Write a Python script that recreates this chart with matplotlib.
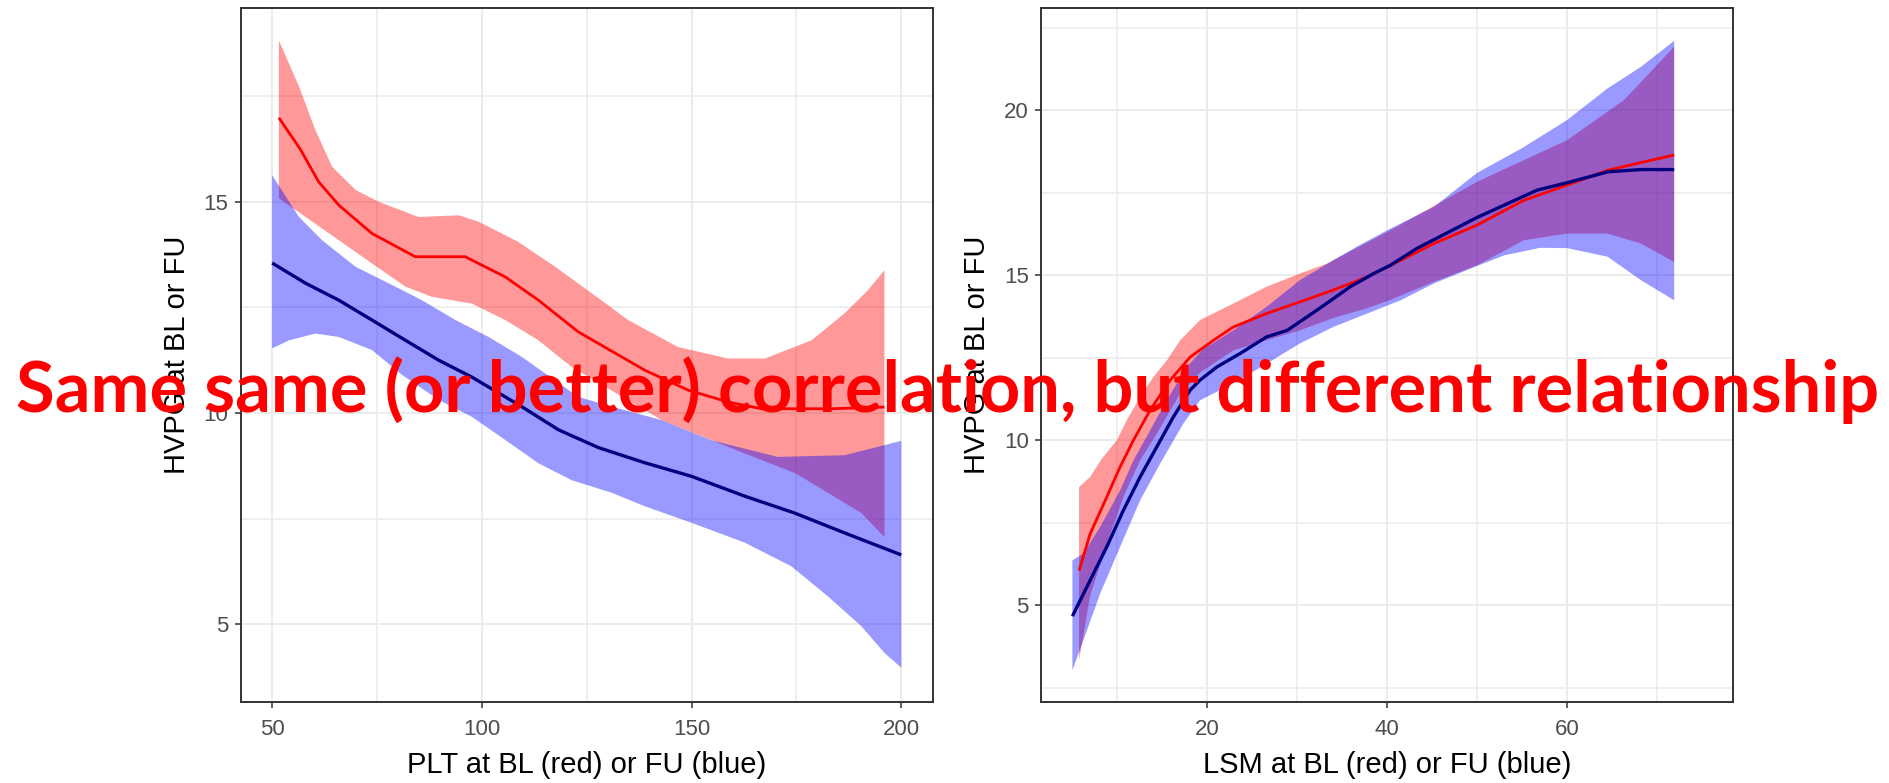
import matplotlib.pyplot as plt
import numpy as np

# smoothed fits (x, y) with their confidence bands, read per group
# left: PLT vs HVPG
plt_bl_fit = [(51.6, 16.99), (56.8, 16.23), (61.1, 15.47), (65.9, 14.92), (73.8, 14.25), (84.1, 13.70),
              (96.0, 13.70), (105.6, 13.22), (113.5, 12.67), (123.0, 11.92), (138.9, 11.01), (149.2, 10.54),
              (158.7, 10.26), (166.7, 10.10), (183.3, 10.10), (196.0, 10.14)]
plt_bl_upper = [(51.6, 18.82), (56.4, 17.73), (60.3, 16.70), (64.3, 15.83), (69.9, 15.28), (75.4, 15.00),
                (84.9, 14.64), (94.5, 14.68), (99.2, 14.53), (108.7, 14.05), (117.5, 13.46), (127.8, 12.72),
                (134.9, 12.20), (146.8, 11.56), (158.7, 11.29), (167.5, 11.29), (178.6, 11.72), (186.5, 12.36),
                (192.1, 12.91), (196.0, 13.38)]
plt_bl_lower = [(51.6, 15.08), (58.0, 14.64), (65.9, 14.09), (73.8, 13.54), (81.8, 12.99), (88.1, 12.75),
                (97.6, 12.59), (105.6, 12.20), (113.5, 11.72), (121.4, 11.09), (142.9, 9.83), (162.7, 9.04),
                (174.6, 8.58), (182.5, 8.11), (190.5, 7.63), (196.0, 7.06)]

plt_fu_fit = [(50.0, 13.55), (58.0, 13.07), (65.9, 12.67), (73.8, 12.20), (81.8, 11.72), (89.7, 11.25),
              (97.6, 10.85), (109.5, 10.15), (118.3, 9.60), (127.8, 9.18), (138.9, 8.82), (150.0, 8.50),
              (162.7, 8.03), (174.6, 7.63), (186.5, 7.16), (200.0, 6.64)]
plt_fu_upper = [(50.0, 15.63), (56.4, 14.64), (61.9, 14.09), (69.9, 13.46), (77.8, 13.07), (85.7, 12.67),
                (93.7, 12.20), (101.6, 11.80), (109.5, 11.33), (123.0, 10.38), (131.0, 10.15), (142.9, 9.83),
                (154.8, 9.35), (170.6, 8.96), (186.5, 9.00), (200.0, 9.34)]
plt_fu_lower = [(50.0, 11.53), (54.0, 11.72), (60.3, 11.88), (65.9, 11.80), (73.8, 11.49), (81.0, 10.90),
                (89.7, 10.31), (97.6, 9.91), (105.6, 9.36), (113.5, 8.81), (121.4, 8.41), (131.0, 8.11),
                (138.9, 7.79), (150.0, 7.40), (162.7, 6.93), (173.8, 6.37), (182.5, 5.66), (190.5, 4.95),
                (196.0, 4.32), (200.0, 3.97)]

# right: LSM vs HVPG
lsm_bl_fit = [(5.76, 6.05), (7.0, 7.17), (8.84, 8.28), (10.32, 9.19), (11.8, 10.0), (13.66, 10.91),
              (15.88, 11.82), (18.11, 12.52), (20.7, 13.03), (22.9, 13.43), (26.6, 13.84), (30.3, 14.19),
              (34.0, 14.55), (37.8, 14.95), (41.5, 15.45), (45.2, 15.96), (50.0, 16.52), (55.2, 17.27),
              (60.0, 17.73), (64.5, 18.18), (68.5, 18.43), (71.9, 18.64)]
lsm_bl_upper = [(5.76, 8.58), (7.0, 8.89), (8.29, 9.44), (9.96, 10.0), (11.07, 10.61), (12.55, 11.31),
                (14.03, 11.92), (15.52, 12.42), (17.0, 13.03), (19.2, 13.64), (22.9, 14.14), (26.6, 14.65),
                (30.3, 15.05), (33.3, 15.35), (40.36, 16.36), (50.0, 17.83), (60.0, 19.09), (66.3, 20.30),
                (71.9, 21.92)]
lsm_bl_lower = [(5.76, 3.33), (7.0, 5.3), (8.84, 6.85), (10.69, 8.28), (12.55, 9.39), (14.4, 10.20),
                (17.0, 11.41), (19.2, 12.05), (22.9, 12.72), (26.6, 13.03), (30.3, 13.33), (34.0, 13.70),
                (37.8, 14.0), (40.36, 14.25), (45.2, 14.80), (50.0, 15.30), (55.2, 16.06), (60.0, 16.26),
                (64.5, 16.26), (68.2, 15.96), (71.9, 15.40)]

lsm_fu_fit = [(5.02, 4.67), (7.0, 5.76), (8.84, 6.77), (10.69, 7.88), (12.55, 8.89), (14.4, 9.80),
              (16.25, 10.71), (18.11, 11.52), (19.2, 11.82), (21.08, 12.22), (23.67, 12.63), (26.6, 13.13),
              (28.9, 13.33), (32.2, 13.94), (35.9, 14.65), (38.5, 15.05), (40.36, 15.30), (43.3, 15.81),
              (50.0, 16.75), (56.7, 17.58), (60.0, 17.80), (64.5, 18.13), (68.2, 18.20), (71.9, 18.20)]
lsm_fu_upper = [(5.02, 6.36), (6.24, 6.57), (8.10, 7.37), (10.32, 8.48), (11.8, 9.39), (13.66, 10.30),
                (15.5, 11.21), (17.74, 12.22), (19.5, 12.75), (22.9, 13.33), (26.6, 14.04), (30.3, 14.85),
                (34.0, 15.45), (36.6, 15.86), (40.0, 16.36), (45.2, 17.07), (50.0, 18.1), (55.0, 18.85),
                (60.0, 19.7), (64.5, 20.66), (68.2, 21.31), (71.9, 22.10)]
lsm_fu_lower = [(5.02, 3.03), (6.24, 3.94), (8.10, 5.35), (10.32, 6.77), (12.55, 8.18), (14.77, 9.29),
                (17.36, 10.51), (19.2, 11.21), (22.9, 11.72), (26.6, 12.32), (30.3, 12.93), (34.0, 13.43),
                (37.8, 13.84), (41.5, 14.24), (45.2, 14.75), (50.0, 15.28), (53.0, 15.6), (57.0, 15.83),
                (60.0, 15.82), (64.5, 15.56), (68.2, 14.85), (71.9, 14.24)]

plt_ticks = [50, 100, 150, 200]
plt_minor = [75, 125, 175]
plt_yticks = [5, 10, 15]
plt_yminor = [7.5, 12.5, 17.5]
lsm_ticks = [20, 40, 60]
lsm_minor = [10, 30, 50, 70]
lsm_yticks = [5, 10, 15, 20]
lsm_yminor = [2.5, 7.5, 12.5, 17.5, 22.5]

headline = "Same same (or better) correlation, but different relationship"

W, H = 1890, 783
fig = plt.figure(figsize=(W / 100, H / 100), dpi=100)
plt.rcParams['font.family'] = ['Liberation Sans', 'DejaVu Sans']


def band(ax, fit, upper, lower, fill, line, lw):
    up = np.array(upper)
    lo = np.array(lower)
    f = np.array(fit)
    ax.fill(np.r_[up[:, 0], lo[::-1, 0]], np.r_[up[:, 1], lo[::-1, 1]], color=fill, alpha=0.4, lw=0)
    ax.plot(f[:, 0], f[:, 1], color=line, lw=lw, solid_capstyle='butt', solid_joinstyle='round')


def panel(rect, xlim, ylim, xt, xm, yt, ym, xlabel, groups):
    ax = fig.add_axes(rect)
    ax.set_xlim(*xlim)
    ax.set_ylim(*ylim)
    ax.set_xticks(xt)
    ax.set_xticks(xm, minor=True)
    ax.set_yticks(yt)
    ax.set_yticks(ym, minor=True)
    ax.set_axisbelow(True)
    ax.grid(which='major', color='#EBEBEB', lw=1.4)
    ax.grid(which='minor', color='#EBEBEB', lw=1.1)
    ax.tick_params(which='minor', length=0)
    ax.tick_params(which='major', length=4.3, width=1.1, color='#333333',
                   labelsize=16, labelcolor='#4D4D4D')
    ax.tick_params(axis='x', pad=7.5)
    ax.tick_params(axis='y', pad=4.5)
    for s in ax.spines.values():
        s.set_color('#333333')
        s.set_linewidth(1.4)
    for g in groups:
        band(ax, *g)
    ax.set_xlabel(xlabel, fontsize=21, color='black', va='baseline')
    ax.xaxis.set_label_coords(0.5, -0.102)
    ax.set_ylabel("HVPG at BL or FU", fontsize=21, color='black', va='center')
    ax.yaxis.set_label_coords(-0.092, 0.5)
    return ax


# red = baseline, blue = follow-up; red drawn first so blue band sits on top
left = panel([240.7 / W, 80.7 / H, 692 / W, 694.8 / H], (42.5, 207.5), (3.15, 19.6),
             plt_ticks, plt_minor, plt_yticks, plt_yminor, "PLT at BL (red) or FU (blue)",
             [(plt_bl_fit, plt_bl_upper, plt_bl_lower, 'red', 'red', 2.0),
              (plt_fu_fit, plt_fu_upper, plt_fu_lower, 'blue', 'navy', 2.4)])
right = panel([1041 / W, 80.7 / H, 692.3 / W, 694.8 / H], (1.53, 78.47), (2.06, 23.11),
              lsm_ticks, lsm_minor, lsm_yticks, lsm_yminor, "LSM at BL (red) or FU (blue)",
              [(lsm_bl_fit, lsm_bl_upper, lsm_bl_lower, 'red', 'red', 2.0),
               (lsm_fu_fit, lsm_fu_upper, lsm_fu_lower, 'blue', 'navy', 2.4)])

# big red overlay line across both panels, sized to span the figure
t = fig.text(947.5 / W, (H - 411.7) / H, headline, color='#FF0000', fontsize=60,
             fontfamily='Lato', fontweight='bold', ha='center', va='baseline', zorder=10)
r = fig.canvas.get_renderer()
wpx = t.get_window_extent(r).width
t.set_fontsize(60 * 1862 / wpx)

fig.savefig("out.png", dpi=100)
